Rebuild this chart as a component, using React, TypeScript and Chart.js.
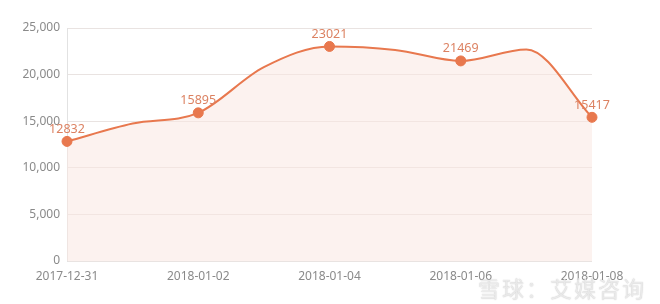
import React, { useEffect, useRef } from "react";
import { Chart, registerables } from "chart.js";

Chart.register(...registerables);

const categories = [
  "2017-12-31",
  "2018-01-01",
  "2018-01-02",
  "2018-01-03",
  "2018-01-04",
  "2018-01-05",
  "2018-01-06",
  "2018-01-07",
  "2018-01-08",
];
const values = [12832, 14750, 15895, 20800, 23021, 22650, 21469, 22700, 15417];
const markedIndices = [0, 2, 4, 6, 8];
const yTicks = [0, 5000, 10000, 15000, 20000, 25000];
const watermark = "雪球：艾媒咨询";

const LINE = "#e8784e";
const LABEL = "#dc8262";
const FONT = "'Noto Sans', 'Open Sans', sans-serif";

const labelPlugin = {
  id: "pointLabels",
  afterDatasetsDraw(chart: any) {
    const ctx = chart.ctx;
    const meta = chart.getDatasetMeta(0);
    ctx.save();
    ctx.font = `12.5px ${FONT}`;
    ctx.fillStyle = LABEL;
    ctx.textAlign = "center";
    ctx.textBaseline = "bottom";
    markedIndices.forEach((i) => {
      const el = meta.data[i];
      ctx.fillText(String(values[i]), el.x, el.y - 6);
    });
    ctx.restore();
  },
};

export default function App() {
  const ref = useRef<HTMLCanvasElement>(null);
  useEffect(() => {
    document.body.style.margin = "0";
    const chart = new Chart(ref.current!, {
      type: "line",
      data: {
        labels: categories,
        datasets: [
          {
            data: values,
            borderColor: LINE,
            borderWidth: 2,
            backgroundColor: "rgba(250, 232, 226, 0.55)",
            fill: "origin",
            cubicInterpolationMode: "monotone",
            pointRadius: values.map((_, i) => (markedIndices.includes(i) ? 5 : 0)),
            pointBackgroundColor: LINE,
            pointBorderColor: LINE,
            pointBorderWidth: 1,
          },
        ],
      },
      options: {
        animation: false,
        responsive: false,
        maintainAspectRatio: false,
        layout: { padding: { left: 0, right: 68, top: 28, bottom: 0 } },
        plugins: { legend: { display: false }, tooltip: { enabled: false } },
        scales: {
          x: {
            grid: { display: false },
            border: { display: false },
            ticks: {
              autoSkip: false,
              maxRotation: 0,
              color: "#8a8a8a",
              font: { size: 12, family: FONT },
              padding: 0,
              callback: (_v: any, i: number) => (i % 2 === 0 ? categories[i] : ""),
            },
            afterFit: (s: any) => {
              s.height = 43;
            },
          },
          y: {
            min: 0,
            max: 25000,
            afterBuildTicks: (s: any) => {
              s.ticks = yTicks.map((v) => ({ value: v }));
            },
            grid: { color: "#e9e3e1", drawTicks: false },
            border: { display: true, color: "#e2e2e2" },
            ticks: {
              color: "#8a8a8a",
              font: { size: 12, family: FONT },
              padding: 7,
              callback: (v: any) => Number(v).toLocaleString("en-US"),
            },
            afterFit: (s: any) => {
              s.width = 67;
            },
          },
        },
      },
      plugins: [labelPlugin],
    });
    return () => chart.destroy();
  }, []);
  return (
    <div style={{ position: "relative", width: 660, height: 304 }}>
      <canvas ref={ref} width={660} height={304} style={{ display: "block" }} />
      <div
        style={{
          position: "absolute",
          left: 478,
          top: 274,
          fontFamily: "'Noto Sans CJK SC', sans-serif",
          fontSize: 22,
          color: "rgba(255,255,255,0.7)",
          textShadow: "0 0 1px rgba(120,120,120,0.6)",
          letterSpacing: 2,
          lineHeight: "26px",
          pointerEvents: "none",
        }}
      >
        {watermark}
      </div>
    </div>
  );
}
